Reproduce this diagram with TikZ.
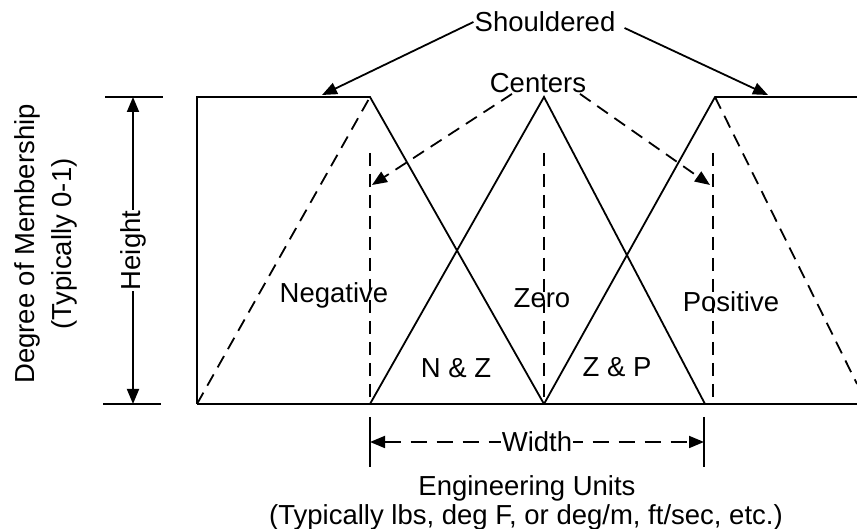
\documentclass[tikz,border=0pt]{standalone}
\usepackage{fontspec}
\setmainfont{Liberation Sans}
\usetikzlibrary{arrows.meta}
\tikzset{
  mf/.style={line width=1.8pt},
  mfdash/.style={line width=1.8pt,dash pattern=on 13pt off 8pt},
  lbl/.style={inner sep=1pt,font=\fontsize{27.5}{37}\selectfont},
  tip/.style={-{Triangle[length=15pt,width=12pt]}},
  dimtip/.style={{Triangle[length=15pt,width=12pt]}-{Triangle[length=15pt,width=12pt]}},
}
\begin{document}
\begin{tikzpicture}[x=1pt,y=1pt]
\path[use as bounding box] (0,0) rectangle (857,529);
% membership functions
\coordinate (negB) at (197,125);
\coordinate (negL) at (197,432);
\coordinate (negP) at (370,432);
\coordinate (negE) at (544,125);
\coordinate (zeroL) at (370,125);
\coordinate (zeroP) at (544,432);
\coordinate (zeroR) at (705,125);
\coordinate (posP) at (715,432);
\coordinate (posE) at (857,432);
\coordinate (axisE) at (857,125);
\coordinate (posD) at (857,145);
\draw[mf] (negB) -- (axisE);
\draw[mf] (negB) -- (negL) -- (negP) -- (negE);
\draw[mf] (zeroL) -- (zeroP) -- (zeroR);
\draw[mf] (negE) -- (posP) -- (posE);
\draw[mfdash] (negB) -- (negP);
\draw[mfdash] (posP) -- (posD);
\foreach \x in {370,544,713}
  \draw[mfdash] (\x,376) -- (\x,125);
% labels in the sets
\node[lbl] (neg) at (334,234) {Negative};
\node[lbl] (zero) at (542,231) {Zero};
\node[lbl] (pos) at (731,227) {Positive};
\node[lbl] (nz) at (456,161) {N \& Z};
\node[lbl] (zp) at (617,162) {Z \& P};
% shoulders
\node[lbl] (shd) at (545,507) {Shouldered};
\coordinate (shdL) at (322,434);
\coordinate (shdR) at (768,434);
\draw[mf,tip] (shd.west) -- (shdL);
\draw[mf,tip] ([xshift=8pt,yshift=-6pt]shd.east) -- (shdR);
% centers
\node[lbl] (ctr) at (538,446) {Centers};
\coordinate (ctrL) at (372,344);
\coordinate (ctrR) at (710,344);
\draw[mfdash,tip] ([xshift=-26pt]ctr.south) -- (ctrL);
\draw[mfdash,tip] ([xshift=42pt]ctr.south) -- (ctrR);
% height
\draw[mf] (105,432) -- (163,432);
\draw[mf] (103,125) -- (161,125);
\coordinate (hT) at (133,432);
\coordinate (hB) at (133,125);
\draw[mf,dimtip] (hT) -- (hB)
  node[lbl,midway,fill=white,rotate=90] (ht) {Height};
\node[lbl,rotate=90,align=center] (ylab) at (46,285) {Degree of Membership\\(Typically 0-1)};
% width
\draw[mf] (370,112) -- (370,62);
\draw[mf] (704,112) -- (704,62);
\coordinate (wL) at (370,87);
\coordinate (wR) at (704,87);
\draw[mf,dimtip,dash pattern=on 16pt off 10pt] (wL) -- (wR)
  node[lbl,midway,fill=white] (wd) {Width};
% units
\node[lbl] (eng) at (527,41) {Engineering Units};
\node[lbl] (typ) at (526,12) {(Typically lbs, deg F, or deg/m, ft/sec, etc.)};
\end{tikzpicture}
\end{document}
